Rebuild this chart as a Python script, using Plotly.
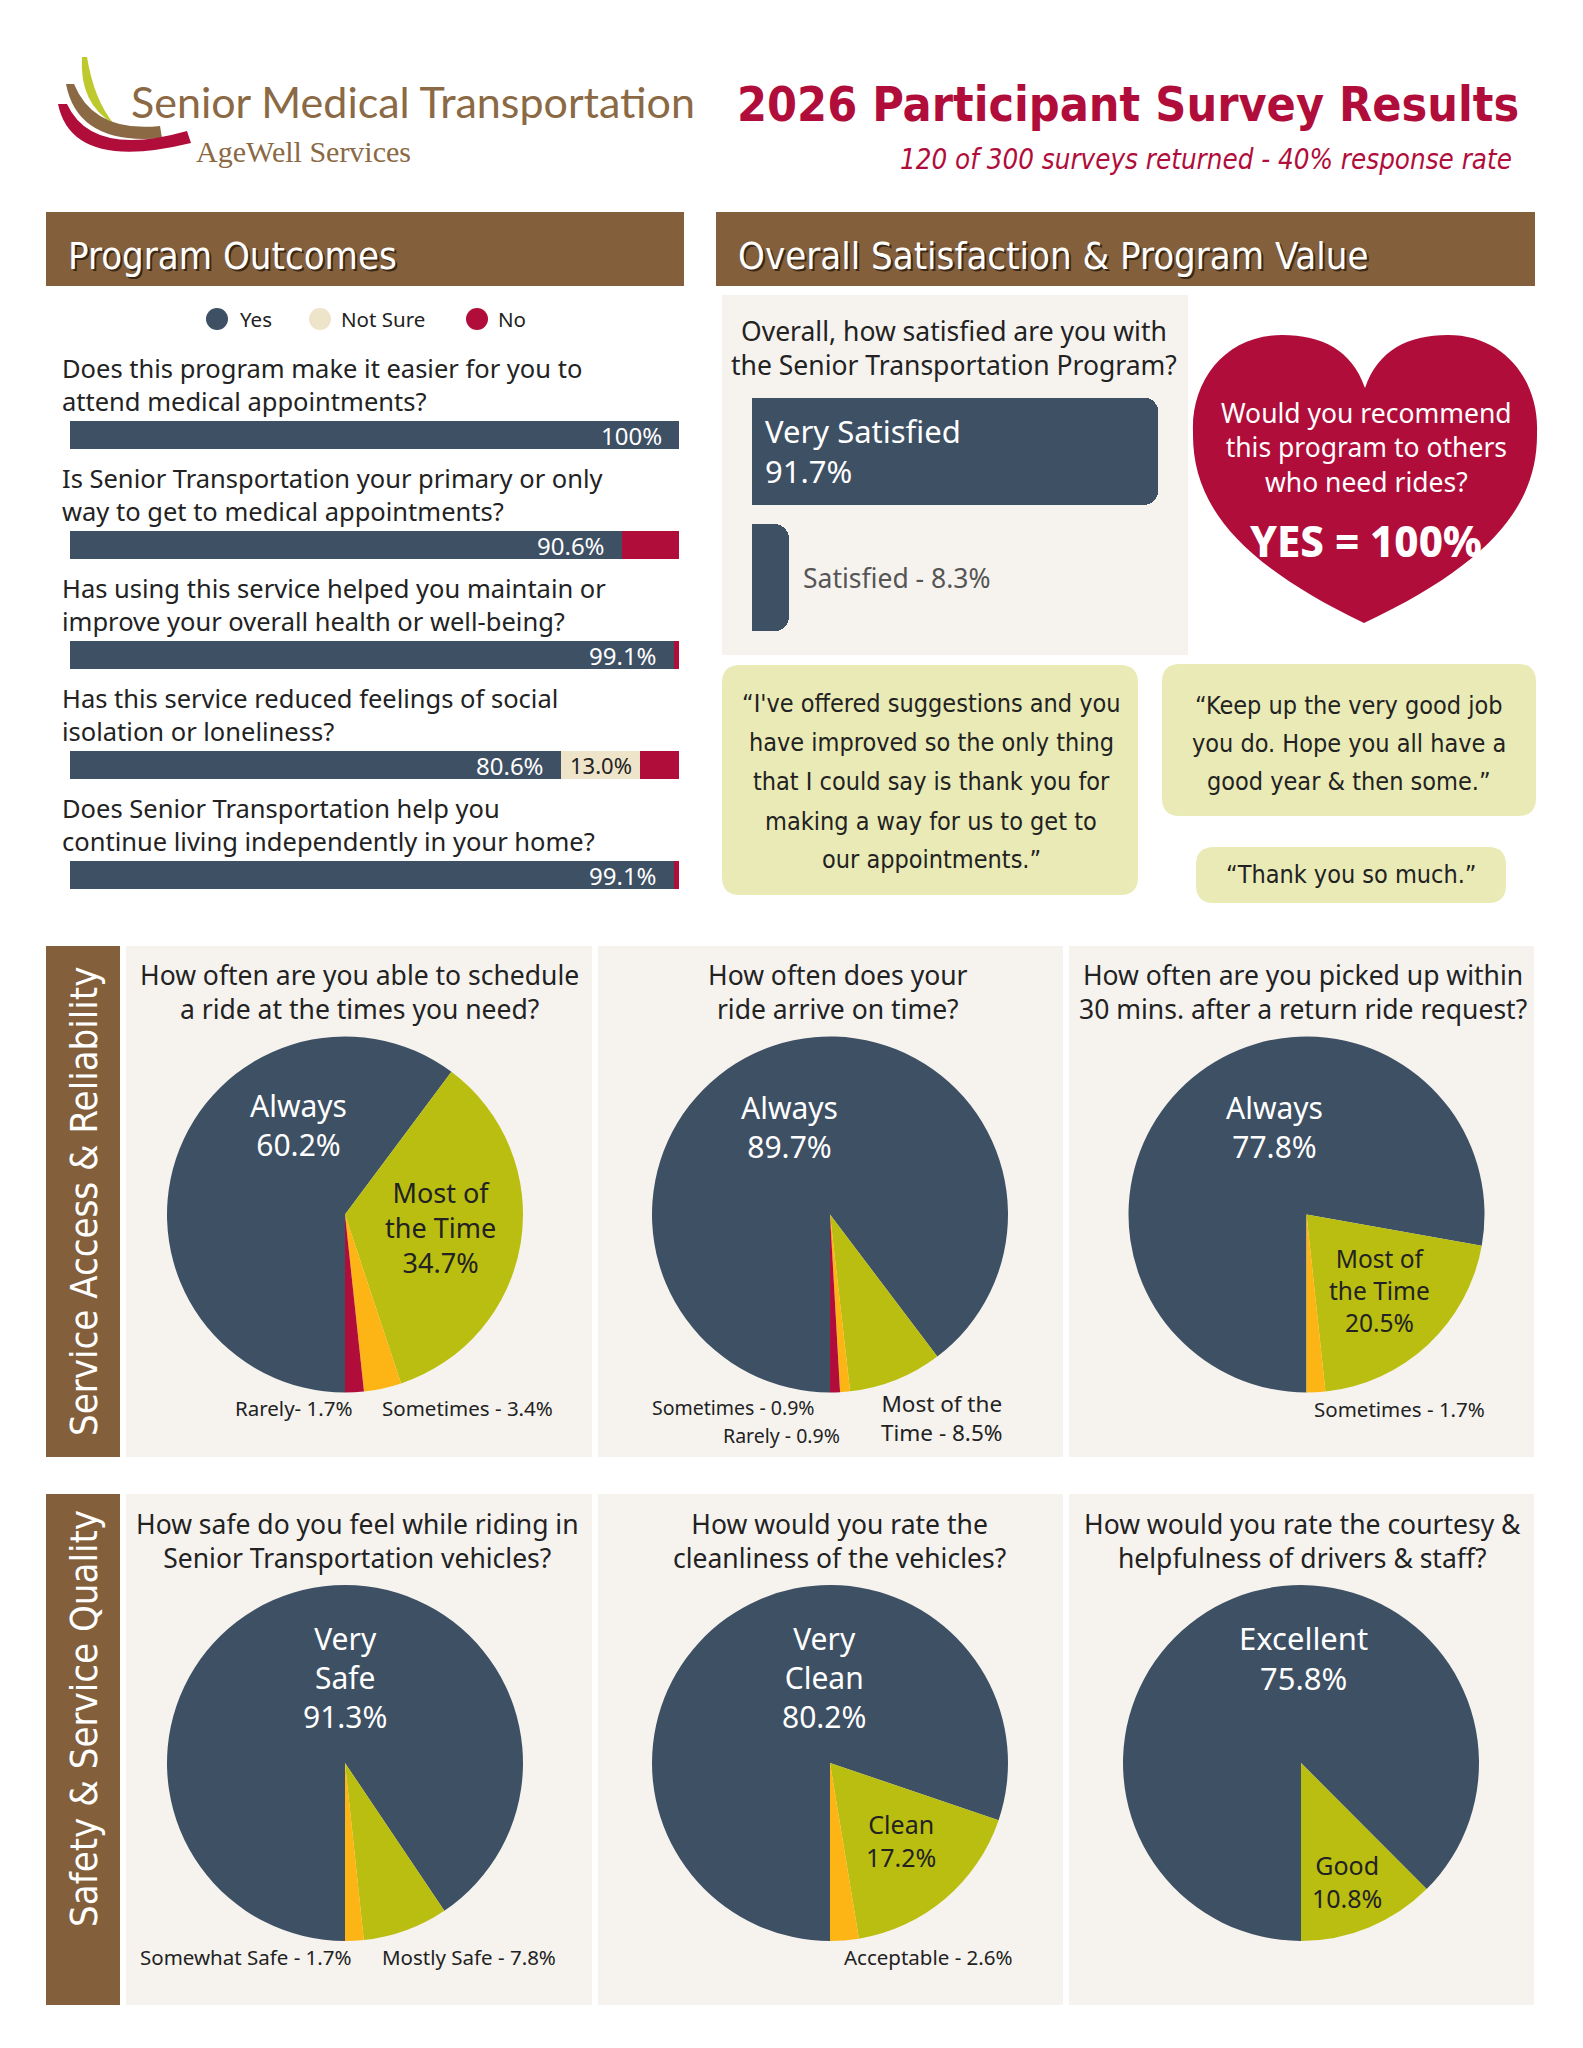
import plotly.graph_objects as go

W, H = 1583, 2048


def X(px):
    return px / W


def Y(py):
    return 1 - py / H


def P(x, y):
    return f"{X(x):.5f},{Y(y):.5f}"


# ---------------- colours ----------------
DARK = '#3E5064'
GREEN = '#B9BE10'
ORANGE = '#FDB515'
RED = '#B10D3B'
BEIGE = '#EEE4C9'
BROWN = '#835F3C'
CREAM = '#F6F3EF'
QUOTE = '#E9EAB5'
INK = '#222222'
LOGO_BROWN = '#8A6944'
LIME = '#BDC92C'

SANS = "Noto Sans, Open Sans, sans-serif"
COND = "Liberation Sans Narrow, DejaVu Sans Condensed, Roboto Condensed, Roboto, sans-serif"

# ---------------- data ----------------
outcome_questions = [
    "Does this program make it easier for you to<br>attend medical appointments?",
    "Is Senior Transportation your primary or only<br>way to get to medical appointments?",
    "Has using this service helped you maintain or<br>improve your overall health or well-being?",
    "Has this service reduced feelings of social<br>isolation or loneliness?",
    "Does Senior Transportation help you<br>continue living independently in your home?",
]
outcome_yes = [100, 90.6, 99.1, 80.6, 99.1]
outcome_notsure = [0, 0, 0, 13.0, 0]
outcome_no = [0, 9.4, 0.9, 6.4, 0.9]
outcome_series = ["Yes", "Not Sure", "No"]

sat_question = "Overall, how satisfied are you with<br>the Senior Transportation Program?"
sat_labels = ["Very Satisfied", "Satisfied"]
sat_values = [91.7, 8.3]

recommend_question = "Would you recommend<br>this program to others<br>who need rides?"
recommend_yes = 100

quotes = [
    ["“I've offered suggestions and you", "have improved so the only thing",
     "that I could say is thank you for", "making a way for us to get to", "our appointments.”"],
    ["“Keep up the very good job", "you do. Hope you all have a", "good year & then some.”"],
    ["“Thank you so much.”"],
]

section_access = "Service Access & Reliability"
section_safety = "Safety & Service Quality"

pie_titles = [
    "How often are you able to schedule<br>a ride at the times you need?",
    "How often does your<br>ride arrive on time?",
    "How often are you picked up within<br>30 mins. after a return ride request?",
    "How safe do you feel while riding in<br>Senior Transportation vehicles?",
    "How would you rate the<br>cleanliness of the vehicles?",
    "How would you rate the courtesy &<br>helpfulness of drivers & staff?",
]
schedule_labels = ["Always", "Most of the Time", "Sometimes", "Rarely"]
schedule_values = [60.2, 34.7, 3.4, 1.7]
ontime_labels = ["Always", "Most of the Time", "Sometimes", "Rarely"]
ontime_values = [89.7, 8.5, 0.9, 0.9]
pickup_labels = ["Always", "Most of the Time", "Sometimes"]
pickup_values = [77.8, 20.5, 1.7]
safety_labels = ["Very Safe", "Mostly Safe", "Somewhat Safe"]
safety_values = [91.3, 7.8, 1.7]
clean_labels = ["Very Clean", "Clean", "Acceptable"]
clean_values = [80.2, 17.2, 2.6]
courtesy_labels = ["Excellent", "Good"]
courtesy_values = [75.8, 10.8]

pie_labels = [schedule_labels, ontime_labels, pickup_labels, safety_labels, clean_labels, courtesy_labels]
pie_values = [schedule_values, ontime_values, pickup_values, safety_values, clean_values, courtesy_values]
SLICE_COLORS = [DARK, GREEN, ORANGE, RED]

# ---------------- layout geometry (pixels) ----------------
pie_centers = [(345, 1214.5), (830, 1214.5), (1306.5, 1214.5),
               (345, 1763), (830, 1763), (1301, 1763)]
PIE_R = 178
title_pos = [(359, 992), (838, 992), (1303, 992), (357, 1541), (839, 1541), (1302, 1541)]

# (pie index, slice index, display template, x, y, colour, size)
pie_label_specs = [
    (0, 0, "Always<br>{v}%", 298, 1125, 'white', 30),
    (0, 1, "Most of<br>the Time<br>{v}%", 441, 1227, INK, 27),
    (0, 3, "Rarely- {v}%", 294, 1408, INK, 20.5),
    (0, 2, "Sometimes - {v}%", 467, 1408, INK, 20.5),
    (1, 0, "Always<br>{v}%", 789, 1127, 'white', 30),
    (1, 2, "Sometimes - {v}%", 733, 1407, INK, 19.5),
    (1, 3, "Rarely - {v}%", 781, 1435, INK, 19.5),
    (1, 1, "Most of the<br>Time - {v}%", 942, 1418, INK, 22.5),
    (2, 0, "Always<br>{v}%", 1274, 1127, 'white', 30),
    (2, 1, "Most of<br>the Time<br>{v}%", 1379, 1290, INK, 24.5),
    (2, 2, "Sometimes - {v}%", 1399, 1409, INK, 20.5),
    (3, 0, "Very<br>Safe<br>{v}%", 345, 1677, 'white', 30),
    (3, 2, "Somewhat Safe - {v}%", 246, 1957, INK, 20.5),
    (3, 1, "Mostly Safe - {v}%", 469, 1957, INK, 20.5),
    (4, 0, "Very<br>Clean<br>{v}%", 824, 1677, 'white', 30),
    (4, 1, "Clean<br>{v}%", 901, 1840, INK, 25),
    (4, 2, "Acceptable - {v}%", 928, 1957, INK, 20.5),
    (5, 0, "Excellent<br>{v}%", 1303, 1658, 'white', 31),
    (5, 1, "Good<br>{v}%", 1347, 1881, INK, 25),
]

fig = go.Figure()

# ---------------- program outcomes stacked bars ----------------
idx = list(range(len(outcome_questions)))
for name, vals, col in zip(outcome_series, [outcome_yes, outcome_notsure, outcome_no], [DARK, BEIGE, RED]):
    fig.add_trace(go.Bar(
        y=idx, x=vals, orientation='h', name=name, marker=dict(color=col, line=dict(width=0)),
        width=0.26, xaxis='x', yaxis='y', showlegend=False,
        hovertemplate=name + ': %{x}%<extra></extra>'))

# ---------------- satisfaction bars ----------------
fig.add_trace(go.Bar(
    y=[0, 1], x=sat_values, orientation='h', name='Satisfaction',
    marker=dict(color=DARK, cornerradius=14, line=dict(width=0)), width=0.846,
    xaxis='x2', yaxis='y2', showlegend=False,
    customdata=sat_labels, hovertemplate='%{customdata}: %{x}%<extra></extra>'))

# ---------------- pies ----------------
for k, (labels, values) in enumerate(zip(pie_labels, pie_values)):
    cx, cy = pie_centers[k]
    fig.add_trace(go.Pie(
        labels=labels, values=values, sort=False, direction='clockwise', rotation=180,
        marker=dict(colors=SLICE_COLORS[:len(values)], line=dict(width=0)),
        textinfo='none', hoverinfo='label+value', showlegend=False,
        domain=dict(x=[X(cx - PIE_R), X(cx + PIE_R)], y=[Y(cy + PIE_R), Y(cy - PIE_R)])))

shapes = []
ann = []


def rect(x0, y0, x1, y1, color, layer='below'):
    shapes.append(dict(type='rect', xref='paper', yref='paper', x0=X(x0), x1=X(x1), y0=Y(y1), y1=Y(y0),
                       fillcolor=color, line=dict(width=0), layer=layer))


def rrect(x0, y0, x1, y1, r, color):
    path = (f"M {P(x0 + r, y0)} L {P(x1 - r, y0)} Q {P(x1, y0)} {P(x1, y0 + r)} "
            f"L {P(x1, y1 - r)} Q {P(x1, y1)} {P(x1 - r, y1)} L {P(x0 + r, y1)} "
            f"Q {P(x0, y1)} {P(x0, y1 - r)} L {P(x0, y0 + r)} Q {P(x0, y0)} {P(x0 + r, y0)} Z")
    shapes.append(dict(type='path', xref='paper', yref='paper', path=path, fillcolor=color,
                       line=dict(width=0), layer='below'))


def text(t, x, y, size, color=INK, family=SANS, xanchor='center', yanchor='middle', angle=0,
         weight=None, style=None, align='center'):
    f = dict(size=size, color=color, family=family)
    if weight:
        f['weight'] = weight
    if style:
        f['style'] = style
    ann.append(dict(text=t, x=X(x), y=Y(y), xref='paper', yref='paper', showarrow=False, font=f,
                    xanchor=xanchor, yanchor=yanchor, textangle=angle, align=align))


# ---------------- header ----------------
logo_paths = [
    (LIME, [(82, 57), (79, 104), (114, 124), (94, 100), (87, 57)]),
    (LOGO_BROWN, [(66, 84), (78, 146), (162, 138), (160, 126), (94, 133), (74, 84)]),
    (RED, [(58, 104), (72, 172), (191, 143), (187, 131), (92, 158), (67, 104)]),
]
for col, pts in logo_paths:
    if len(pts) == 5:
        a, c1, b, c2, d = pts
        path = f"M {P(*a)} Q {P(*c1)} {P(*b)} Q {P(*c2)} {P(*d)} Z"
    else:
        a, c1, b, e, c2, d = pts
        path = f"M {P(*a)} Q {P(*c1)} {P(*b)} L {P(*e)} Q {P(*c2)} {P(*d)} Z"
    shapes.append(dict(type='path', xref='paper', yref='paper', path=path, fillcolor=col,
                       line=dict(width=0), layer='above'))

text("Senior Medical Transportation", 129, 101, 43, LOGO_BROWN, "Lato, sans-serif", xanchor='left')
text("AgeWell Services", 194, 151, 30, LOGO_BROWN, "Liberation Serif, DejaVu Serif, serif", xanchor='left')
text("2026 Participant Survey Results", 1521, 104, 48, RED, COND, xanchor='right', weight=700)
text("120 of 300 surveys returned - 40% response rate", 1514, 159, 27.5, RED, COND, xanchor='right',
     style='italic')

# ---------------- section headers ----------------
rect(46, 212, 684, 286, BROWN)
rect(716, 212, 1535, 286, BROWN)
for t, x0 in [("Program Outcomes", 66), ("Overall Satisfaction & Program Value", 736)]:
    text(t, x0 + 2, 258, 38, '#3A2816', COND, xanchor='left')
    text(t, x0, 256, 38, 'white', COND, xanchor='left')

# legend
for name, col, cx, tx in zip(outcome_series, [DARK, BEIGE, RED], [217, 320, 477], [238, 339, 496]):
    shapes.append(dict(type='circle', xref='paper', yref='paper', x0=X(cx - 11), x1=X(cx + 11),
                       y0=Y(319 + 11), y1=Y(319 - 11), fillcolor=col, line=dict(width=0)))
    text(name, tx, 319, 20.5, INK, SANS, xanchor='left')

# question texts and value labels (data coords)
for i, q in enumerate(outcome_questions):
    ann.append(dict(text=q, x=X(60), y=i, xref='paper', yref='y', yshift=51,
                    showarrow=False, xanchor='left', yanchor='middle', align='left',
                    font=dict(size=25.5, color=INK, family=SANS)))
    yv = outcome_yes[i]
    ann.append(dict(text=("100%" if yv == 100 else f"{yv:.1f}%"), x=yv, y=i, xref='x', yref='y',
                    xanchor='right', xshift=-15, showarrow=False,
                    font=dict(size=24, color='white', family=SANS)))
    if outcome_notsure[i] > 0:
        ann.append(dict(text=f"{outcome_notsure[i]:.1f}%", x=yv + outcome_notsure[i], y=i, xref='x',
                        yref='y', xanchor='right', xshift=-6, showarrow=False,
                        font=dict(size=22, color=INK, family=SANS)))

# ---------------- satisfaction panel ----------------
rect(722, 295, 1188, 655, CREAM)
text(sat_question, 954, 348, 26.5)
ann.append(dict(text=f"{sat_labels[0]}<br>{sat_values[0]}%", x=0, y=0, xref='x2', yref='y2', xshift=11,
                xanchor='left', yanchor='middle', align='left', showarrow=False,
                font=dict(size=31, color='white', family=SANS)))
ann.append(dict(text=f"{sat_labels[1]} - {sat_values[1]}%", x=sat_values[1], y=1, xref='x2', yref='y2',
                xshift=12, xanchor='left', yanchor='middle', showarrow=False,
                font=dict(size=26.5, color='#555555', family=SANS)))

# heart
heart = (f"M {P(1365, 388)} C {P(1352, 350)} {P(1322, 335)} {P(1282, 335)} "
         f"C {P(1226, 335)} {P(1191, 380)} {P(1193, 432)} "
         f"C {P(1192, 500)} {P(1232, 560)} {P(1364, 623)} "
         f"C {P(1498, 560)} {P(1538, 500)} {P(1537, 432)} "
         f"C {P(1539, 380)} {P(1504, 335)} {P(1448, 335)} "
         f"C {P(1408, 335)} {P(1378, 350)} {P(1365, 388)} Z")
shapes.append(dict(type='path', xref='paper', yref='paper', path=heart, fillcolor=RED,
                   line=dict(width=0), layer='below'))
text(recommend_question, 1366, 447.5, 26.5, 'white', SANS)
text(f"YES = {recommend_yes}%", 1366, 540, 42, 'white', SANS, weight=800)

# quotes
quote_boxes = [(722, 665, 1138, 895), (1162, 664, 1536, 816), (1196, 847, 1506, 903)]
quote_cx = [931, 1349, 1351]
quote_ys = [[703, 742, 781, 821, 859], [705, 743, 781], [874]]
for (x0, y0, x1, y1), lines, cx, ys in zip(quote_boxes, quotes, quote_cx, quote_ys):
    rrect(x0, y0, x1, y1, 18, QUOTE)
    for line, yy in zip(lines, ys):
        text(line, cx, yy, 25, INK, COND)

# ---------------- pie panels ----------------
for (y0, y1), label, ty in [((946, 1457), section_access, 1202), ((1494, 2005), section_safety, 1719)]:
    rect(46, y0, 120, y1, BROWN)
    for x0, x1 in [(126, 592), (598, 1063), (1069, 1534)]:
        rect(x0, y0, x1, y1, CREAM)
    text(label, 84, ty, 38, 'white', COND, angle=-90)

for t, (x, y) in zip(pie_titles, title_pos):
    text(t, x, y, 26.5)

for k, si, tmpl, x, y, col, size in pie_label_specs:
    text(tmpl.format(v=pie_values[k][si]), x, y, size, col, SANS)

axis_off = dict(showgrid=False, zeroline=False, showticklabels=False, showline=False, ticks='',
                fixedrange=True)
fig.update_layout(
    width=W, height=H, margin=dict(l=0, r=0, t=0, b=0),
    paper_bgcolor='white', plot_bgcolor='rgba(0,0,0,0)',
    barmode='stack', shapes=shapes, annotations=ann,
    xaxis=dict(domain=[X(70), X(679)], range=[0, 100], **axis_off),
    yaxis=dict(domain=[Y(930), Y(380)], range=[4.5, -0.5], **axis_off),
    xaxis2=dict(domain=[X(752), X(1195)], range=[0, 100], anchor='y2', **axis_off),
    yaxis2=dict(domain=[Y(641), Y(388)], range=[1.5, -0.5], anchor='x2', **axis_off),
    font=dict(family=SANS, color=INK),
)

fig.write_html("out.html", config={'displayModeBar': False},
               post_script="document.body.style.margin='0';")
